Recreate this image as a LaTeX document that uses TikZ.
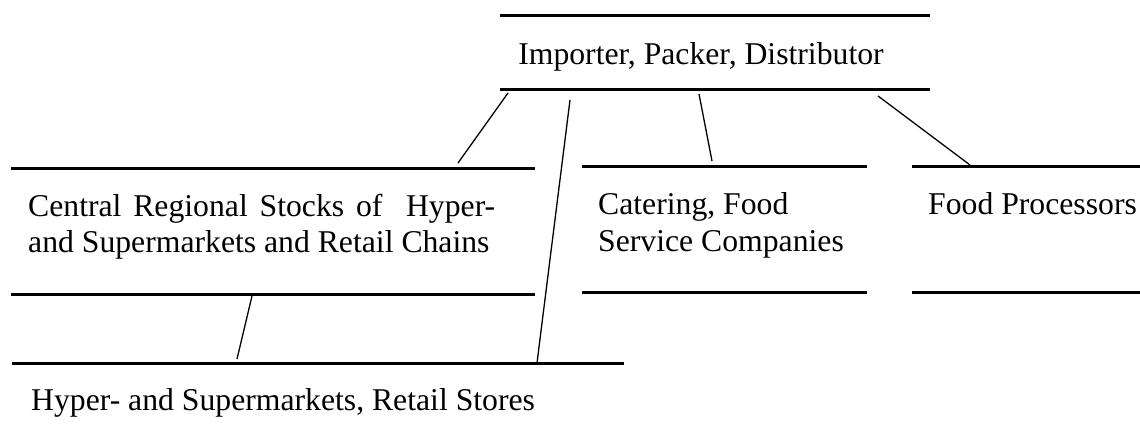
\documentclass[tikz,border=0pt]{standalone}
\usepackage{fontspec}
\setmainfont{Liberation Serif}
\begin{document}
\begin{tikzpicture}[x=1bp,y=-1bp,
  rule/.style={line width=3bp},
  link/.style={line width=1.3bp},
  lbl/.style={inner sep=0pt,anchor=base west,font=\fontsize{31.7bp}{36.5bp}\selectfont}]
\useasboundingbox (0,0) rectangle (1140,442);
% Importer box
\draw[rule] (500,16) -- (930,16);
\draw[rule] (500,90) -- (930,90);
\node[lbl,anchor=base] (imp) at (701,65) {Importer, Packer, Distributor};
% Central regional stocks
\draw[rule] (11,169) -- (535,169);
\draw[rule] (11,295) -- (535,295);
\node[lbl] (crs1) at (28,217) {\makebox[467bp][s]{Central Regional Stocks of\ \ Hyper-}};
\node[lbl] (crs2) at (28,253) {and Supermarkets and Retail Chains};
% Catering
\draw[rule] (582,167) -- (867,167);
\draw[rule] (582,293) -- (867,293);
\node[lbl] (cat1) at (598,215) {Catering, Food};
\node[lbl] (cat2) at (598,252) {Service Companies};
% Food processors
\draw[rule] (912,167) -- (1140,167);
\draw[rule] (912,293) -- (1140,293);
\node[lbl] (fp) at (928,215) {Food Processors};
% Retail stores
\draw[rule] (12,364) -- (624,364);
\node[lbl] (ret) at (31,411) {Hyper- and Supermarkets, Retail Stores};
% connector end points
\coordinate (a1) at (508,93);  \coordinate (a2) at (458,163);
\coordinate (b1) at (570,100); \coordinate (b2) at (537,363);
\coordinate (c1) at (699,94);  \coordinate (c2) at (712,161);
\coordinate (d1) at (878,96);  \coordinate (d2) at (970,165);
\coordinate (e1) at (252,296); \coordinate (e2) at (237,359);
\draw[link] (a1) -- (a2);
\draw[link] (b1) -- (b2);
\draw[link] (c1) -- (c2);
\draw[link] (d1) -- (d2);
\draw[link] (e1) -- (e2);
\end{tikzpicture}
\end{document}
